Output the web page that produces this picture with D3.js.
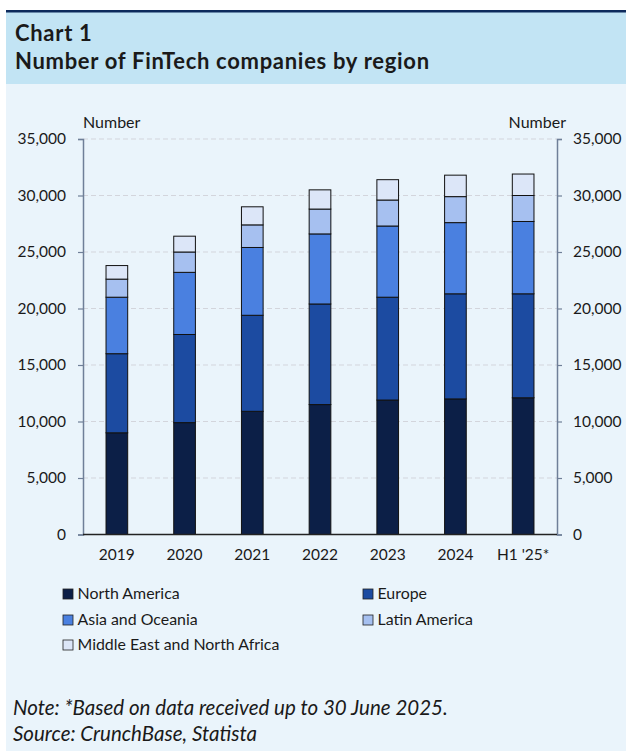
<!DOCTYPE html>
<html>
<head>
<meta charset="utf-8">
<script src="https://cdn.jsdelivr.net/npm/d3@7/dist/d3.min.js"></script>
<style>
  html, body { margin: 0; padding: 0; background: #ffffff; }
  svg { display: block; }
  text { font-family: Lato, "Open Sans", "Noto Sans", sans-serif; fill: #1a1a1a; }
</style>
</head>
<body>
<svg id="chart" width="626" height="751"></svg>
<script>
// Number of FinTech companies by region (segment values per year)
const categories   = ["2019", "2020", "2021", "2022", "2023", "2024", "H1 '25*"];
const northAmerica = [9000, 9900, 10900, 11500, 11900, 12000, 12100];
const europe       = [7000, 7800, 8500, 8900, 9100, 9300, 9200];
const asiaOceania  = [5000, 5500, 6000, 6200, 6300, 6300, 6400];
const latinAmerica = [1600, 1800, 2000, 2200, 2300, 2300, 2300];
const mena         = [1200, 1400, 1600, 1700, 1800, 1900, 1900];
const seriesNames  = ["North America", "Europe", "Asia and Oceania", "Latin America", "Middle East and North Africa"];
const yTicks       = [0, 5000, 10000, 15000, 20000, 25000, 30000, 35000];

const seriesValues = [northAmerica, europe, asiaOceania, latinAmerica, mena];
const colors = ["#0c1f47", "#1c4ba1", "#4a80e0", "#a6c0f0", "#dce6f8"];

const svg = d3.select("#chart");

// Panel and header
svg.append("rect").attr("x", 6).attr("y", 12).attr("width", 620).attr("height", 739).attr("fill", "#eaf4fb");
svg.append("rect").attr("x", 6).attr("y", 12).attr("width", 620).attr("height", 72).attr("fill", "#c2e4f4");
svg.append("rect").attr("x", 6).attr("y", 10).attr("width", 620).attr("height", 2.5).attr("fill", "#0d2a5c");

// Font size that makes a text span the given width
function fitSize(sel, width) {
  const base = parseFloat(sel.style("font-size"));
  const w = sel.node().getComputedTextLength();
  return w > 0 ? base * width / w : base;
}

const t2 = svg.append("text").attr("x", 15).attr("y", 69)
  .style("font-weight", 700).style("font-size", "22px").style("letter-spacing", "0.7px")
  .text("Number of FinTech companies by region");
svg.append("text").attr("x", 15).attr("y", 41)
  .style("font-weight", 700).style("font-size", "22px").style("letter-spacing", "0.7px")
  .text("Chart 1");

// Scales
const x = d3.scaleBand().domain(categories).range([83, 557]).paddingInner(0.68).paddingOuter(0.34);
const y = d3.scaleLinear().domain([0, 35000]).range([534.5, 139]);

// Gridlines
svg.append("g").selectAll("line").data(yTicks.filter(d => d > 0)).join("line")
  .attr("x1", 83).attr("x2", 557)
  .attr("y1", d => y(d)).attr("y2", d => y(d))
  .attr("stroke", "#d3d5dc").attr("stroke-width", 1).attr("stroke-dasharray", "5,3");

// Stacked bars
const table = categories.map((c, i) => {
  const row = { category: c };
  seriesNames.forEach((s, k) => { row[s] = seriesValues[k][i]; });
  return row;
});
const stacked = d3.stack().keys(seriesNames)(table);

svg.append("g").selectAll("g").data(stacked).join("g")
  .attr("fill", (d, i) => colors[i])
  .selectAll("rect").data(d => d).join("rect")
  .attr("x", d => x(d.data.category))
  .attr("width", x.bandwidth())
  .attr("y", d => y(d[1]))
  .attr("height", d => y(d[0]) - y(d[1]))
  .attr("stroke", "#111111").attr("stroke-width", 1);

// Axes
const fmt = d3.format(",");
const left = svg.append("g").attr("transform", "translate(83,0)")
  .call(d3.axisLeft(y).tickValues(yTicks).tickSize(5).tickPadding(12).tickFormat(fmt));
const right = svg.append("g").attr("transform", "translate(557,0)")
  .call(d3.axisRight(y).tickValues(yTicks).tickSize(5).tickPadding(11).tickFormat(fmt));
[left, right].forEach(g => {
  g.select(".domain").attr("stroke", "#6f7f98").attr("stroke-width", 1.5);
  g.selectAll(".tick line").attr("stroke", "#6f7f98").attr("stroke-width", 1.2);
  g.selectAll(".tick text").style("font-size", "15.5px").style("font-family", "Lato, 'Open Sans', sans-serif").attr("fill", "#1a1a1a");
});

// Zero baseline
svg.append("line").attr("x1", 83).attr("x2", 557).attr("y1", y(0)).attr("y2", y(0))
  .attr("stroke", "#222222").attr("stroke-width", 1.3);

const bottom = svg.append("g").attr("transform", `translate(0,${y(0)})`)
  .call(d3.axisBottom(x).tickSize(0).tickPadding(14));
bottom.select(".domain").remove();
bottom.selectAll(".tick text").style("font-size", "15.5px").style("font-family", "Lato, 'Open Sans', sans-serif").attr("fill", "#1a1a1a");

// Unit labels
svg.append("text").attr("x", 83).attr("y", 128).style("font-size", "16px").text("Number");
svg.append("text").attr("x", 566).attr("y", 128).attr("text-anchor", "end").style("font-size", "16px").text("Number");

// Legend
const legendPos = [
  [63, 589], [363, 589],
  [63, 615], [363, 615],
  [63, 640]
];
const legend = svg.append("g").selectAll("g").data(seriesNames).join("g")
  .attr("transform", (d, i) => `translate(${legendPos[i][0]},${legendPos[i][1]})`);
legend.append("rect").attr("width", 10).attr("height", 10)
  .attr("fill", (d, i) => colors[i]).attr("stroke", "#222222").attr("stroke-width", 0.8);
const legendText = legend.append("text").attr("x", 14.5).attr("y", 10).style("font-size", "15px").text(d => d);
const legendSize = fitSize(legendText.filter((d, i) => i === 4), 202);
legendText.style("font-size", legendSize + "px");

// Notes
const n1 = svg.append("text").attr("x", 13).attr("y", 715).style("font-style", "italic").style("font-size", "18px")
  .text("Note: *Based on data received up to 30 June 2025.");
const noteSize = fitSize(n1, 435);
n1.style("font-size", noteSize + "px");
svg.append("text").attr("x", 13).attr("y", 741).style("font-style", "italic").style("font-size", noteSize + "px")
  .text("Source: CrunchBase, Statista");
</script>
</body>
</html>
